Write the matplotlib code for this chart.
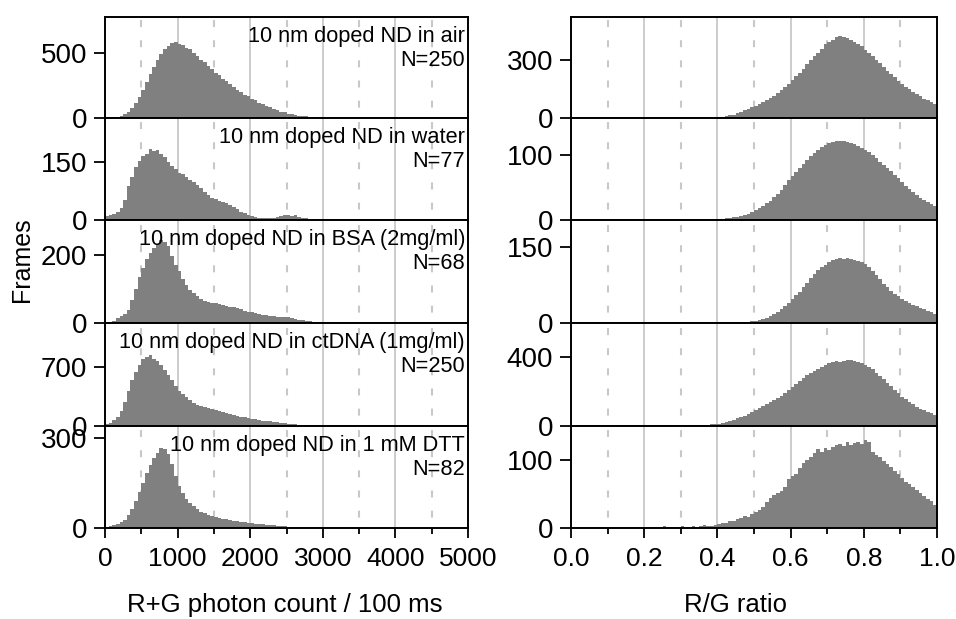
import numpy as np
import matplotlib
matplotlib.use("Agg")
import matplotlib.pyplot as plt

plt.rcParams['font.family'] = ['Liberation Sans', 'DejaVu Sans']
plt.rcParams['lines.scale_dashes'] = False

# ---------------- data ----------------
# Left column: R+G photon count histograms, bins of 50 counts from 0 to 5000
count_bin_width = 50
count_air = [0, 2, 5, 9, 17, 30, 48, 78, 118, 165,
             218, 275, 338, 395, 448, 495, 532, 556, 575, 582,
             568, 562, 540, 528, 498, 478, 448, 430, 398, 378,
             348, 330, 298, 282, 258, 242, 218, 203, 178, 168,
             148, 137, 118, 110, 93, 84, 68, 62, 48, 43,
             34, 29, 22, 19, 14, 12, 9, 8, 6, 5,
             5, 4, 4, 3, 4, 3, 3, 2, 3, 2,
             2, 2, 2, 3, 2, 2, 1, 2, 2, 1,
             1, 2, 1, 1, 2, 1, 1, 1, 1, 1,
             1, 1, 1, 0, 1, 1, 1, 0, 1, 0]
count_water = [10, 14, 16, 22, 30, 52, 88, 112, 138, 152,
               165, 172, 185, 178, 182, 170, 162, 150, 140, 132,
               122, 118, 112, 104, 98, 90, 82, 72, 64, 58,
               54, 50, 46, 44, 40, 34, 28, 22, 17, 13,
               10, 7, 5, 4, 4, 5, 6, 8, 10, 12,
               13, 11, 12, 9, 6, 4, 3, 3, 2, 2,
               2, 2, 3, 2, 2, 2, 1, 2, 2, 2,
               2, 2, 2, 1, 2, 2, 2, 2, 1, 2,
               2, 2, 3, 2, 2, 2, 3, 2, 3, 2,
               3, 2, 3, 3, 2, 3, 2, 3, 2, 2]
count_bsa = [1, 3, 6, 14, 20, 27, 38, 68, 100, 135,
             162, 188, 205, 222, 232, 244, 238, 226, 196, 172,
             152, 130, 112, 98, 88, 78, 70, 66, 62, 60,
             58, 56, 52, 50, 48, 46, 44, 40, 36, 33,
             32, 28, 26, 24, 23, 22, 21, 19, 18, 18,
             17, 15, 12, 10, 8, 6, 5, 4, 3, 3,
             2, 2, 2, 2, 1, 1, 1, 1, 1, 1,
             1, 1, 1, 0, 1, 1, 0, 1, 1, 0,
             1, 0, 1, 1, 0, 1, 0, 1, 0, 1,
             0, 1, 0, 0, 1, 0, 1, 0, 0, 1]
count_ctdna = [20, 40, 70, 110, 180, 290, 420, 540, 640, 720,
               790, 815, 840, 800, 770, 720, 670, 610, 540, 470,
               420, 380, 340, 305, 275, 255, 240, 222, 208, 196,
               185, 175, 165, 155, 145, 132, 122, 112, 103, 95,
               88, 80, 72, 65, 60, 54, 48, 42, 37, 33,
               28, 24, 20, 17, 14, 12, 10, 8, 7, 6,
               5, 5, 4, 4, 3, 3, 3, 3, 2, 2,
               2, 2, 2, 2, 2, 1, 1, 1, 1, 1,
               1, 1, 1, 1, 1, 1, 1, 1, 1, 1,
               1, 1, 1, 1, 1, 1, 1, 1, 1, 1]
count_dtt = [3, 6, 10, 14, 20, 28, 42, 65, 90, 120,
             150, 185, 210, 235, 250, 268, 262, 248, 215, 175,
             140, 118, 98, 85, 72, 62, 55, 49, 44, 40,
             37, 34, 31, 29, 27, 25, 23, 21, 19, 17,
             16, 15, 14, 12, 11, 10, 9, 8, 7, 6,
             5, 5, 4, 4, 4, 3, 3, 3, 4, 5,
             5, 4, 3, 2, 2, 2, 2, 1, 2, 1,
             1, 2, 1, 1, 1, 1, 1, 1, 1, 1,
             1, 1, 1, 1, 1, 1, 1, 1, 1, 1,
             1, 1, 1, 1, 1, 1, 1, 1, 1, 1]

# Right column: R/G ratio histograms, bins of 0.01 from 0 to 1
ratio_bin_width = 0.01
ratio_air = [1, 1, 0, 1, 1, 1, 0, 1, 1, 1,
             1, 1, 1, 0, 1, 1, 1, 1, 0, 1,
             1, 1, 1, 1, 1, 1, 1, 1, 1, 1,
             1, 1, 1, 2, 1, 2, 2, 2, 3, 3,
             4, 6, 9, 13, 18, 25, 32, 40, 48, 56,
             64, 74, 82, 92, 104, 115, 130, 145, 160, 178,
             198, 215, 235, 255, 278, 300, 320, 338, 358, 380,
             392, 405, 418, 422, 420, 412, 405, 395, 385, 370,
             352, 338, 320, 300, 283, 262, 245, 228, 210, 192,
             178, 162, 148, 135, 122, 112, 100, 92, 82, 72]
ratio_water = [1, 1, 1, 1, 1, 1, 1, 1, 1, 1,
               1, 1, 1, 1, 1, 1, 1, 1, 1, 1,
               1, 1, 1, 1, 1, 1, 1, 1, 1, 1,
               1, 1, 1, 1, 1, 1, 1, 1, 1, 1,
               2, 2, 3, 3, 4, 5, 6, 8, 10, 12,
               15, 18, 22, 26, 30, 35, 40, 46, 54, 62,
               68, 74, 80, 86, 92, 98, 103, 108, 112, 115,
               119, 120, 122, 121, 122, 120, 119, 117, 114, 111,
               108, 104, 100, 95, 90, 85, 80, 75, 70, 64,
               58, 53, 48, 43, 38, 34, 31, 27, 24, 21]
ratio_bsa = [0, 0, 0, 0, 0, 0, 0, 0, 0, 0,
             0, 0, 0, 0, 0, 0, 0, 0, 0, 0,
             0, 0, 0, 0, 0, 0, 0, 0, 0, 0,
             0, 0, 0, 0, 0, 0, 0, 0, 0, 0,
             0, 0, 0, 0, 0, 1, 1, 2, 2, 3,
             4, 6, 8, 10, 13, 17, 22, 27, 33, 40,
             48, 55, 62, 70, 78, 88, 97, 104, 110, 114,
             120, 124, 126, 128, 127, 129, 126, 125, 123, 120,
             117, 110, 102, 95, 86, 77, 70, 63, 58, 53,
             48, 44, 40, 36, 33, 30, 27, 24, 21, 18]
ratio_ctdna = [0, 0, 0, 0, 0, 0, 0, 0, 0, 0,
               0, 0, 0, 0, 0, 0, 0, 0, 0, 0,
               0, 0, 0, 0, 0, 1, 0, 1, 1, 1,
               1, 2, 2, 3, 4, 5, 6, 8, 10, 12,
               14, 18, 23, 28, 35, 44, 52, 60, 70, 80,
               92, 104, 116, 128, 140, 150, 162, 176, 192, 210,
               228, 245, 262, 280, 295, 306, 320, 332, 344, 355,
               366, 372, 375, 372, 376, 380, 383, 378, 370, 363,
               352, 340, 328, 310, 290, 270, 250, 230, 210, 190,
               170, 155, 140, 126, 112, 100, 92, 82, 74, 66]
ratio_dtt = [0, 0, 1, 0, 1, 0, 1, 0, 1, 1,
             1, 2, 1, 2, 1, 1, 2, 1, 2, 1,
             2, 1, 2, 2, 1, 3, 2, 1, 2, 2,
             3, 2, 2, 3, 2, 3, 4, 3, 3, 4,
             6, 7, 8, 11, 10, 13, 15, 17, 16, 20,
             23, 26, 31, 38, 44, 48, 52, 55, 60, 72,
             76, 80, 88, 96, 100, 104, 110, 116, 112, 118,
             114, 119, 122, 124, 120, 126, 122, 125, 127, 124,
             129, 126, 112, 108, 104, 98, 94, 90, 84, 79,
             73, 68, 64, 60, 56, 52, 47, 43, 39, 34]

labels = ["10 nm doped ND in air\nN=250",
          "10 nm doped ND in water\nN=77",
          "10 nm doped ND in BSA (2mg/ml)\nN=68",
          "10 nm doped ND in ctDNA (1mg/ml)\nN=250",
          "10 nm doped ND in 1 mM DTT\nN=82"]
left_series = [count_air, count_water, count_bsa, count_ctdna, count_dtt]
right_series = [ratio_air, ratio_water, ratio_bsa, ratio_ctdna, ratio_dtt]
left_yticks = [500, 150, 200, 700, 300]
right_yticks = [300, 100, 150, 400, 100]
left_ylim = [777, 264, 303, 1222, 340]
right_ylim = [522, 157, 203, 597, 150]
left_xticks = [0, 1000, 2000, 3000, 4000, 5000]
right_xticks = [0.0, 0.2, 0.4, 0.6, 0.8, 1.0]

# ---------------- figure ----------------
W, H = 956, 619
fig = plt.figure(figsize=(W / 100, H / 100), dpi=100)

rows_px = [17, 118, 220, 323, 426, 528]
col_px = [(105, 468), (571, 937)]

fill = '#808080'
grid_solid = '#c4c4c4'
grid_dash = '#c8c8c8'
lw_sp = 1.4

def make_ax(col, row):
    x0, x1 = col_px[col]
    ytop, ybot = rows_px[row], rows_px[row + 1]
    return fig.add_axes([x0 / W, 1 - ybot / H, (x1 - x0) / W, (ybot - ytop) / H])

for row in range(5):
    for col in range(2):
        ax = make_ax(col, row)
        if col == 0:
            vals = np.array(left_series[row], dtype=float)
            edges = np.arange(len(vals) + 1) * count_bin_width
            xmax = 5000
            majors = [1000, 2000, 3000, 4000]
            minors = [500, 1500, 2500, 3500, 4500]
            ytk = left_yticks[row]
            ylim = left_ylim[row]
            xt_major = left_xticks
        else:
            vals = np.array(right_series[row], dtype=float)
            edges = np.arange(len(vals) + 1) * ratio_bin_width
            xmax = 1.0
            majors = [0.2, 0.4, 0.6, 0.8]
            minors = [0.1, 0.3, 0.5, 0.7, 0.9]
            ytk = right_yticks[row]
            ylim = right_ylim[row]
            xt_major = right_xticks
        for m in majors:
            ax.axvline(m, color=grid_solid, lw=1.2, zorder=0)
        for m in minors:
            ax.axvline(m, color=grid_dash, lw=1.5, zorder=0,
                       linestyle=(7, (5, 9.5)))
        ax.stairs(vals, edges, fill=True, color=fill, linewidth=0, zorder=2)
        ax.set_xlim(0, xmax)
        ax.set_ylim(0, ylim)
        ax.set_yticks([0, ytk])
        ax.set_yticklabels(['0', str(ytk)])
        for s in ax.spines.values():
            s.set_linewidth(lw_sp)
            s.set_zorder(5)
        ax.tick_params(axis='y', direction='out', length=8, width=1.3,
                       labelsize=20, pad=5)
        if row == 4:
            ax.set_xticks(xt_major)
            ax.set_xticks(minors, minor=True)
            if col == 0:
                ax.set_xticklabels([str(v) for v in xt_major])
            else:
                ax.set_xticklabels(['%.1f' % v for v in xt_major])
            ax.tick_params(axis='x', which='major', direction='out', length=7,
                           width=1.3, labelsize=19, pad=7)
            ax.tick_params(axis='x', which='minor', direction='out', length=4,
                           width=1.3)
        else:
            ax.set_xticks([])
        if col == 0:
            ax.text(0.992, 0.915, labels[row], transform=ax.transAxes,
                    ha='right', va='top', fontsize=15.7, linespacing=1.2,
                    zorder=6)

fig.text(285 / W, 1 - 605 / H, "R+G photon count / 100 ms", ha='center',
         va='center', fontsize=18.5)
fig.text(736 / W, 1 - 605 / H, "R/G ratio", ha='center',
         va='center', fontsize=18.5)
fig.text(22 / W, 1 - 260 / H, "Frames", rotation=90, ha='center', va='center',
         fontsize=18)

fig.savefig("out.png", dpi=100)
